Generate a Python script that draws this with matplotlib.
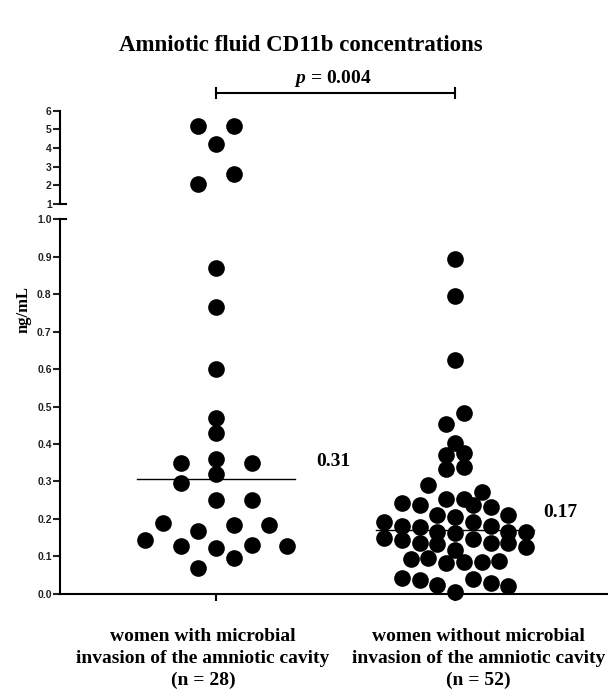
import matplotlib
matplotlib.use("Agg")
import matplotlib.pyplot as plt
import numpy as np
from math import gcd

# Amniotic fluid CD11b (ng/mL)
groups = ["women with microbial\ninvasion of the amniotic cavity\n(n = 28)",
          "women without microbial\ninvasion of the amniotic cavity\n(n = 52)"]

miac = [5.18, 5.18, 4.22, 2.6, 2.08, 0.87, 0.765, 0.60, 0.47, 0.43,
        0.36, 0.35, 0.35, 0.32, 0.295, 0.25, 0.25, 0.19, 0.185, 0.185,
        0.167, 0.143, 0.13, 0.127, 0.127, 0.122, 0.095, 0.07]

no_miac = [0.893, 0.795, 0.624, 0.483, 0.453, 0.403, 0.376, 0.371, 0.339, 0.333,
           0.291, 0.272, 0.253, 0.253, 0.243, 0.237, 0.237, 0.232, 0.211, 0.211,
           0.205, 0.192, 0.192, 0.181, 0.181, 0.178, 0.165, 0.165, 0.165, 0.162,
           0.149, 0.147, 0.144, 0.136, 0.136, 0.136, 0.133, 0.125, 0.117, 0.096,
           0.093, 0.088, 0.085, 0.085, 0.082, 0.043, 0.040, 0.037, 0.029, 0.024,
           0.021, 0.005]

p_value = "0.004"
upper_ticks = [1, 2, 3, 4, 5, 6]
lower_ticks = [0.0, 0.1, 0.2, 0.3, 0.4, 0.5, 0.6, 0.7, 0.8, 0.9, 1.0]

SERIF = "Liberation Serif"
SANS = "Liberation Sans"
plt.rcParams["mathtext.fontset"] = "custom"
plt.rcParams["mathtext.it"] = "Liberation Serif:italic:bold"
plt.rcParams["mathtext.rm"] = "Liberation Serif:bold"

BREAK = 1.0          # values above this go in the top panel
GROUP_WIDTH = 0.594  # width of the widest row of dots (x units)
BIN_LOW = 0.05       # row height in the lower panel
BIN_UP = 0.9         # row height in the upper panel


def row_bins(vals):
    vals = np.asarray(vals, dtype=float)
    return np.where(vals > BREAK,
                    1000 + np.floor((vals - BREAK) / BIN_UP),
                    np.floor(vals / BIN_LOW)).astype(int)


def column_layout(vals, centre):
    # GraphPad-like scatter: points binned in rows, spread evenly across a row
    vals = np.asarray(vals, dtype=float)
    bins = row_bins(vals)
    counts = {b: np.sum(bins == b) for b in np.unique(bins)}
    spacing = GROUP_WIDTH / max(max(counts.values()) - 1, 1)
    xs = np.zeros(len(vals))
    for b in counts:
        idx = np.where(bins == b)[0]
        idx = idx[np.argsort(vals[idx], kind="stable")]
        n = len(idx)
        step = max(k for k in range(1, n // 2 + 1) if gcd(k, n) == 1) if n > 1 else 1
        slot = (np.arange(n) * step + (n - 1) // 2) % n
        xs[idx] = centre + (slot - (n - 1) / 2) * spacing
    return xs


fig = plt.figure(figsize=(6.08, 6.93), dpi=100)
ax_low = fig.add_axes([0.0987, 0.1429, 0.9013, 0.541])
ax_up = fig.add_axes([0.0987, 0.7056, 0.9013, 0.1347])

for i, vals in enumerate([miac, no_miac]):
    vals = np.asarray(vals)
    xs = column_layout(vals, i)
    low = vals <= BREAK
    ax_low.scatter(xs[low], vals[low], s=12 ** 2, color="black", linewidths=0,
                   clip_on=False, zorder=3)
    ax_up.scatter(xs[~low], vals[~low], s=12 ** 2, color="black", linewidths=0,
                  clip_on=False, zorder=3)

for ax in (ax_low, ax_up):
    ax.set_xlim(-0.653, 1.64)
    ax.spines["top"].set_visible(False)
    ax.spines["right"].set_visible(False)
    ax.spines["left"].set_linewidth(1.5)
    ax.spines["bottom"].set_linewidth(1.5)
    ax.tick_params(axis="y", length=5, width=1.5, pad=1, labelsize=7.5, colors="#222222")

# lower panel
ax_low.set_ylim(0, 1.0)
ax_low.set_yticks(lower_ticks)
ax_low.set_yticklabels([f"{t:.1f}" for t in lower_ticks])
ax_low.set_xticks([0, 1])
ax_low.set_xticklabels([])
ax_low.tick_params(axis="x", length=5, width=1.5)
for i, (lab, shift) in enumerate(zip(groups, [-0.055, 0.098])):
    ax_low.text(i + shift, -0.092, lab, ha="center", va="top",
                transform=ax_low.get_xaxis_transform(), fontfamily=SERIF,
                fontweight="bold", fontsize=14, linespacing=1.34)

# upper panel
ax_up.set_ylim(1, 6)
ax_up.set_yticks(upper_ticks)
ax_up.spines["bottom"].set_visible(False)
ax_up.set_xticks([])

for ax in (ax_low, ax_up):
    for lbl in ax.get_yticklabels():
        lbl.set_fontfamily(SANS)
        lbl.set_fontweight("bold")

# break caps
for ax in (ax_low, ax_up):
    ax.plot([0, 0.011], [1, 1], transform=ax.get_yaxis_transform(),
            color="black", lw=1.5, clip_on=False)

# medians
for i, (vals, tx) in enumerate(zip([miac, no_miac], [0.42, 0.37])):
    med = np.median(vals)
    ax_low.plot([i - 0.33, i + 0.33], [med, med], color="black", lw=1)
    ax_low.text(i + tx, med + 0.047, f"{med:.2f}", fontfamily=SERIF,
                fontweight="bold", fontsize=14, va="center", ha="left")

# significance bracket
ax_up.plot([0, 1], [6.96, 6.96], color="black", lw=1.5, clip_on=False)
for xe in (0, 1):
    ax_up.plot([xe, xe], [6.7, 7.22], color="black", lw=1.5, clip_on=False)
ax_up.text(0.49, 7.75, f"$p$ = {p_value}", ha="center", va="center",
           fontfamily=SERIF, fontweight="bold", fontsize=14)

fig.text(0.038, 0.553, "ng/mL", rotation=90, ha="center", va="center",
         fontfamily=SERIF, fontweight="bold", fontsize=12)
fig.text(0.495, 0.935, "Amniotic fluid CD11b concentrations", ha="center",
         va="center", fontfamily=SERIF, fontweight="bold", fontsize=16.5)

fig.savefig("out.png", dpi=100)
